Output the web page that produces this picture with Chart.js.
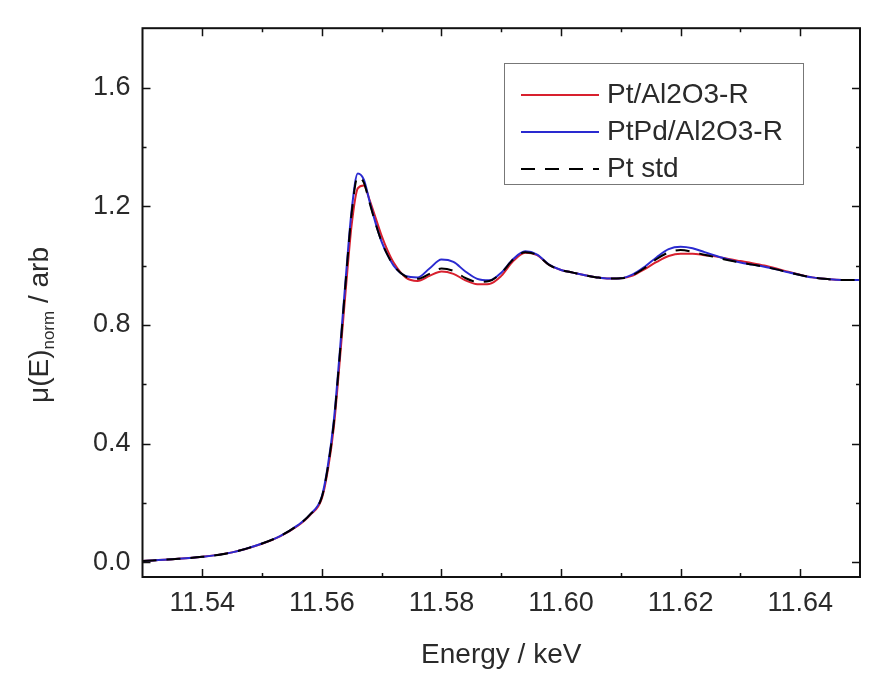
<!DOCTYPE html>
<html><head><meta charset="utf-8">
<script src="https://cdn.jsdelivr.net/npm/chart.js@4.4.1/dist/chart.umd.min.js"></script>
<style>html,body{margin:0;padding:0;background:#fff;}#wrap{width:874px;height:683px;}</style>
</head><body><div id="wrap"><canvas id="c" width="874" height="683"></canvas></div>
<script>
const energy = [11.530,11.535,11.540,11.545,11.550,11.553,11.556,11.558,
  11.560,11.561,11.562,11.563,11.564,11.565,11.566,11.567,11.568,11.569,11.570,11.571,11.572,
  11.574,11.576,11.578,11.580,11.582,11.584,11.586,11.588,11.590,11.592,11.594,11.596,11.598,11.600,
  11.602,11.604,11.606,11.608,11.610,11.612,11.614,11.616,11.618,11.620,11.622,11.624,11.626,11.628,
  11.630,11.632,11.634,11.636,11.638,11.640,11.642,11.644,11.646,11.648,11.650];
const ptAl = [0.004,0.010,0.018,0.033,0.062,0.087,0.123,0.158,
  0.215,0.310,0.455,0.680,0.920,1.140,1.260,1.270,1.220,1.160,1.100,1.050,1.010,
  0.960,0.948,0.965,0.980,0.972,0.950,0.937,0.938,0.965,1.015,1.043,1.035,1.002,0.985,
  0.976,0.967,0.960,0.956,0.957,0.966,0.988,1.012,1.032,1.040,1.040,1.035,1.030,1.022,
  1.015,1.008,1.000,0.990,0.979,0.969,0.960,0.955,0.952,0.951,0.951];
const ptPdAl = [0.004,0.010,0.018,0.033,0.063,0.088,0.125,0.160,
  0.222,0.325,0.478,0.710,0.960,1.190,1.310,1.290,1.215,1.142,1.080,1.035,1.000,
  0.965,0.960,0.990,1.020,1.012,0.980,0.955,0.950,0.976,1.022,1.048,1.037,1.003,0.985,
  0.976,0.967,0.960,0.956,0.957,0.970,0.996,1.028,1.055,1.063,1.058,1.045,1.032,1.020,
  1.010,1.003,0.996,0.987,0.977,0.968,0.960,0.955,0.952,0.951,0.951];
const ptStd = [0.004,0.010,0.018,0.033,0.063,0.088,0.125,0.160,
  0.220,0.320,0.470,0.700,0.950,1.180,1.300,1.280,1.210,1.140,1.080,1.035,1.000,
  0.963,0.955,0.972,0.990,0.982,0.958,0.945,0.948,0.975,1.020,1.045,1.035,1.002,0.985,
  0.976,0.967,0.960,0.956,0.957,0.968,0.992,1.022,1.044,1.052,1.046,1.036,1.027,1.018,
  1.010,1.003,0.996,0.987,0.977,0.968,0.960,0.955,0.952,0.951,0.951];
const seriesLabels = ['Pt/Al2O3-R','PtPd/Al2O3-R','Pt std'];
const xTicks = [11.54,11.56,11.58,11.60,11.62,11.64];
const xMinor = [11.55,11.57,11.59,11.61,11.63];
const yTicks = [0.0,0.4,0.8,1.2,1.6];
const yMinor = [0.2,0.6,1.0,1.4];
const xTitle = 'Energy / keV';
const yTitleParts = ['\u03bc(E)','norm',' / arb'];

const FONT = '"Liberation Sans", Arial, sans-serif';
const TXT = '#2a2a2a';

function pts(ys){ return energy.map((x,i)=>({x:x,y:ys[i]})); }

const frameTicks = {
  id:'frameTicks',
  afterDraw(chart){
    const c = chart.ctx, a = chart.chartArea, xs = chart.scales.x, ys = chart.scales.y;
    c.save();
    c.strokeStyle = '#111'; c.lineWidth = 2;
    c.strokeRect(a.left, a.top, a.right-a.left, a.bottom-a.top);
    c.lineWidth = 1.5;
    const tick = (vals, len, isX) => {
      vals.forEach(v=>{
        c.beginPath();
        if(isX){
          const p = Math.round(xs.getPixelForValue(v))+0.5;
          c.moveTo(p,a.bottom); c.lineTo(p,a.bottom-len);
          c.moveTo(p,a.top); c.lineTo(p,a.top+len);
        } else {
          const p = Math.round(ys.getPixelForValue(v))+0.5;
          c.moveTo(a.left,p); c.lineTo(a.left+len,p);
          c.moveTo(a.right,p); c.lineTo(a.right-len,p);
        }
        c.stroke();
      });
    };
    tick(xTicks,8,true); tick(xMinor,4,true);
    tick(yTicks,8,false); tick(yMinor,4,false);
    c.restore();
  }
};

const titles = {
  id:'titles',
  afterDraw(chart){
    const c = chart.ctx, a = chart.chartArea;
    c.save();
    c.fillStyle = TXT;
    c.font = '28px ' + FONT;
    c.textAlign = 'center'; c.textBaseline = 'middle';
    c.fillText(xTitle, (a.left+a.right)/2, 655);
    c.translate(40, 325);
    c.rotate(-Math.PI/2);
    c.textAlign = 'left'; c.textBaseline = 'middle';
    const big = '28px ' + FONT, small = '17px ' + FONT;
    c.font = big; const w1 = c.measureText(yTitleParts[0]).width;
    c.font = small; const w2 = c.measureText(yTitleParts[1]).width;
    c.font = big; const w3 = c.measureText(yTitleParts[2]).width;
    let x0 = -(w1+w2+w3)/2;
    c.font = big; c.fillText(yTitleParts[0], x0, 0);
    c.font = small; c.fillText(yTitleParts[1], x0+w1, 9);
    c.font = big; c.fillText(yTitleParts[2], x0+w1+w2, 0);
    c.restore();
  }
};

const boxLegend = {
  id:'boxLegend',
  afterDraw(chart){
    const c = chart.ctx;
    c.save();
    c.strokeStyle = '#777'; c.lineWidth = 1;
    c.strokeRect(504.5, 63.5, 299, 121);
    c.font = '28px ' + FONT; c.fillStyle = TXT;
    c.textAlign = 'left'; c.textBaseline = 'middle';
    chart.data.datasets.forEach((ds,i)=>{
      const y = 95 + i*37;
      c.beginPath();
      c.strokeStyle = ds.borderColor; c.lineWidth = ds.borderWidth;
      c.setLineDash(ds.borderDash || []);
      c.moveTo(521, y); c.lineTo(599, y); c.stroke();
      c.setLineDash([]);
      c.fillText(ds.label, 607, y);
    });
    c.restore();
  }
};

new Chart(document.getElementById('c'), {
  type:'line',
  data:{ datasets:[
    {label:seriesLabels[0], data:pts(ptAl), borderColor:'#d8202e', borderWidth:2, order:2},
    {label:seriesLabels[1], data:pts(ptPdAl), borderColor:'#2a2ad0', borderWidth:2, order:1},
    {label:seriesLabels[2], data:pts(ptStd), borderColor:'#000000', borderWidth:2, borderDash:[14,10], order:0}
  ]},
  options:{
    responsive:false, animation:false, devicePixelRatio:1,
    layout:{padding:{top:26,right:14,left:0,bottom:0}},
    elements:{point:{radius:0}, line:{cubicInterpolationMode:'monotone', fill:false}},
    plugins:{legend:{display:false}, tooltip:{enabled:false}},
    scales:{
      x:{type:'linear', min:11.53, max:11.65,
        grid:{display:false, drawTicks:false}, border:{display:false},
        afterBuildTicks(s){ s.ticks = xTicks.map(v=>({value:v})); },
        afterFit(s){ s.height = 106; },
        ticks:{padding:10, color:TXT, font:{family:FONT,size:27}, maxRotation:0,
          callback:(v)=>Number(v).toFixed(2)}},
      y:{type:'linear', min:-0.05, max:1.8,
        grid:{display:false, drawTicks:false}, border:{display:false},
        afterBuildTicks(s){ s.ticks = yTicks.map(v=>({value:v})); },
        afterFit(s){ s.width = 142.5; },
        ticks:{padding:12, color:TXT, font:{family:FONT,size:27},
          callback:(v)=>Number(v).toFixed(1)}}
    }
  },
  plugins:[frameTicks, titles, boxLegend]
});
</script></body></html>
